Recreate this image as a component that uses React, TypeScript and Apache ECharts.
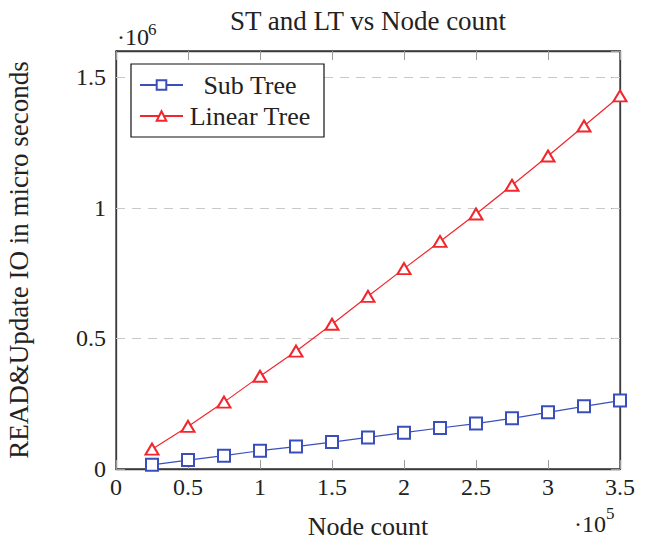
import React, { useEffect, useRef } from "react";
import * as echarts from "echarts";

const nodeCounts = [25000, 50000, 75000, 100000, 125000, 150000, 175000, 200000, 225000, 250000, 275000, 300000, 325000, 350000];
const subTree = [16000, 34000, 51000, 70000, 86000, 103000, 121000, 139000, 157000, 174000, 194000, 217000, 240000, 262000];
const linearTree = [76000, 163000, 256000, 355000, 451000, 554000, 661000, 767000, 871000, 976000, 1086000, 1198000, 1313000, 1428000];
const gridValues = [500000, 1000000, 1500000];
const seriesNames = ["Sub Tree", "Linear Tree"];
const titleText = "ST and LT vs Node count";
const xName = "Node count";
const yName = "READ&Update IO in micro seconds";

const FONT = "'Liberation Serif', 'Times New Roman', serif";
const BLUE = "#3a4fbb";
const RED = "#f2262c";
const AXIS = "#3a3a3a";
const TICK = "#9a9a9a";
const TXT = "#222";

export default function App() {
  const ref = useRef<HTMLDivElement>(null);
  useEffect(() => {
    if (!ref.current) return;
    const chart = echarts.init(ref.current, null, { renderer: "svg" });
    const fmtY = (v: number) => (Math.abs(v / 500000 - Math.round(v / 500000)) < 1e-6 ? String(v / 1e6) : "");
    const fmtX = (v: number) => String(v / 1e5);
    const baseAxisLine = { show: true, onZero: false, lineStyle: { color: AXIS, width: 1.3 } };
    const baseTick = { show: true, inside: true, length: 9, lineStyle: { color: TICK, width: 1 } };
    chart.setOption({
      animation: false,
      backgroundColor: "#fff",
      title: {
        text: titleText,
        left: 363,
        textAlign: "center",
        top: 2,
        textStyle: { fontFamily: FONT, fontSize: 27, fontWeight: "normal", color: TXT },
      },
      grid: {
        left: 116,
        right: 27,
        top: 51,
        bottom: 71,
        containLabel: false,
        outerBoundsMode: "none",
        show: true,
        borderColor: AXIS,
        borderWidth: 1.3,
        backgroundColor: "transparent",
      },
      legend: {
        left: 131,
        top: 64,
        orient: "vertical",
        backgroundColor: "#fff",
        borderColor: "#111",
        borderWidth: 1.2,
        borderRadius: 0,
        padding: [8, 12, 8, 8],
        itemGap: 5,
        itemWidth: 43,
        itemHeight: 12,
        z: 20,
        data: seriesNames,
        formatter: (n: string) => `{a|${n}}`,
        textStyle: {
          fontFamily: FONT,
          fontSize: 26,
          color: TXT,
          rich: { a: { fontFamily: FONT, fontSize: 26, lineHeight: 26, color: TXT, width: 124, align: "center" } },
        },
      },
      xAxis: [
        {
          type: "value",
          gridIndex: 0,
          min: 0,
          max: 350000,
          interval: 50000,
          position: "bottom",
          name: xName,
          nameLocation: "middle",
          nameGap: 44,
          nameTextStyle: { fontFamily: FONT, fontSize: 26, color: TXT },
          axisLine: baseAxisLine,
          axisTick: baseTick,
          splitLine: { show: false },
          axisLabel: { formatter: fmtX, fontFamily: FONT, fontSize: 24, color: TXT, margin: 6 },
        },
        {
          type: "value",
          gridIndex: 0,
          min: 0,
          max: 350000,
          interval: 50000,
          position: "top",
          axisLine: baseAxisLine,
          axisTick: baseTick,
          splitLine: { show: false },
          axisLabel: { show: false },
        },
      ],
      yAxis: [
        {
          type: "value",
          gridIndex: 0,
          min: 0,
          max: 1600000,
          interval: 500000,
          position: "left",
          name: yName,
          nameLocation: "middle",
          nameGap: 84,
          nameTextStyle: { fontFamily: FONT, fontSize: 27, color: TXT },
          axisLine: baseAxisLine,
          axisTick: baseTick,
          splitLine: { show: false },
          axisLabel: { formatter: fmtY, fontFamily: FONT, fontSize: 24, color: TXT, margin: 10, showMaxLabel: false },
        },
        {
          type: "value",
          gridIndex: 0,
          min: 0,
          max: 1600000,
          interval: 500000,
          position: "right",
          axisLine: baseAxisLine,
          axisTick: baseTick,
          splitLine: { show: false },
          axisLabel: { show: false },
        },
      ],
      graphic: [
        { type: "text", left: 117, top: 25, style: { text: "·10", font: `24px ${FONT}`, fill: TXT } },
        { type: "text", left: 148, top: 21, style: { text: "6", font: `17px ${FONT}`, fill: TXT } },
        { type: "text", left: 574, top: 512, style: { text: "·10", font: `24px ${FONT}`, fill: TXT } },
        { type: "text", left: 606, top: 505, style: { text: "5", font: `17px ${FONT}`, fill: TXT } },
      ],
      series: [
        {
          name: seriesNames[0],
          type: "line",
          xAxisIndex: 0,
          yAxisIndex: 0,
          z: 3,
          data: nodeCounts.map((x, i) => [x, subTree[i]]),
          symbol: "emptyRect",
          symbolSize: 12,
          lineStyle: { color: BLUE, width: 1.2 },
          itemStyle: { color: BLUE, borderColor: BLUE, borderWidth: 1.4 },
          markLine: {
            silent: true,
            z: 1,
            symbol: "none",
            label: { show: false },
            lineStyle: { color: "#c9c9c9", width: 1.2, type: [9, 7] },
            emphasis: { disabled: true },
            data: gridValues.map((v) => ({ yAxis: v })),
          },
        },
        {
          name: seriesNames[1],
          type: "line",
          xAxisIndex: 0,
          yAxisIndex: 0,
          z: 3,
          data: nodeCounts.map((x, i) => [x, linearTree[i]]),
          symbol: "emptyTriangle",
          symbolSize: [13, 11],
          lineStyle: { color: RED, width: 1.2 },
          itemStyle: { color: RED, borderColor: RED, borderWidth: 1.4 },
        },
      ],
    });
    return () => chart.dispose();
  }, []);
  return <div ref={ref} style={{ width: 647, height: 540, position: "absolute", left: 0, top: 0 }} />;
}
